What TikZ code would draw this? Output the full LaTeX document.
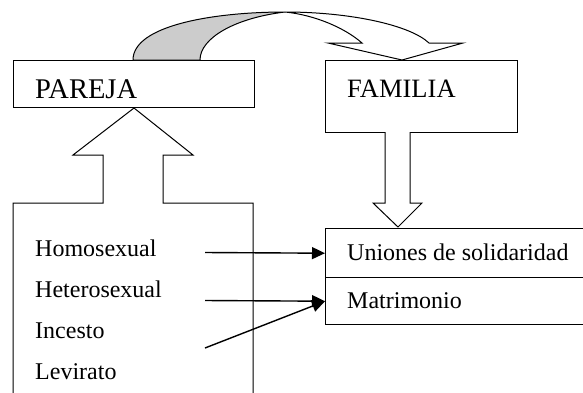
\documentclass[tikz,border=0pt]{standalone}
\usepackage{fontspec}
\setmainfont{Liberation Serif}
\usetikzlibrary{arrows.meta}

\begin{document}
\begin{tikzpicture}[x=1pt, y=-1pt,
    box/.style={draw, line width=1pt, rectangle, inner sep=0pt, anchor=north west},
    txt/.style={inner sep=0pt, anchor=base west, font=\fontsize{24}{28}\selectfont},
    link/.style={line width=1.4pt, -{Triangle[length=13pt, width=12pt]}},
    blockarrow/.style={draw, line width=1pt, fill=white, line join=miter}]

  \useasboundingbox (0,0) rectangle (583,392);
  \clip (0,0) rectangle (583,392);

  % Boxes
  \node[box, minimum width=241pt, minimum height=47pt] (pareja) at (13,60) {};
  \node[box, minimum width=192pt, minimum height=72pt] (familia) at (325,60) {};
  \node[box, line width=1.4pt, minimum width=270pt, minimum height=49pt] (uniones) at (325,228) {};
  \node[box, line width=1.4pt, minimum width=270pt, minimum height=47pt] (matri) at (325,277) {};

  % Block arrows
  \draw[blockarrow] (13,400) -- (13,203) -- (103,203) -- (103,155) -- (73,155)
    -- (pareja.south) -- (193,155) -- (163,155) -- (163,203) -- (253,203) -- (253,400);
  \draw[blockarrow] (385,132) -- (385,203) -- (373,203) -- (398,227)
    -- (422,203) -- (410,203) -- (410,132);

  % Curved arrow
  \coordinate (twist) at (285,12);
  \filldraw[fill=gray!40, line width=1pt] (133,60) .. controls (133,25) and (215,12) .. (twist)
    .. controls (235,18) and (200,38) .. (200,60) -- cycle;
  \filldraw[fill=white, line width=1pt, line join=miter] (twist) .. controls (350,12) and (410,25) .. (429,43)
    -- (463,43) -- (402,60) -- (328,43) -- (362,43) .. controls (345,28) and (315,15) .. (twist) -- cycle;

  % Labels
  \node[txt, font=\fontsize{28.5}{32}\selectfont] (lpareja) at (35,98) {PAREJA};
  \node[txt, font=\fontsize{26.5}{30}\selectfont] (lfamilia) at (347,97) {FAMILIA};
  \node[txt] (homo) at (35,256) {Homosexual};
  \node[txt] (hetero) at (35,297) {Heterosexual};
  \node[txt] (incesto) at (35,338) {Incesto};
  \node[txt] (levirato) at (35,379) {Levirato};
  \node[txt] (luniones) at (347,260) {Uniones de solidaridad};
  \node[txt] (lmatri) at (347,308) {Matrimonio};

  % Connections
  \coordinate (s1) at (205,252.5);
  \coordinate (s2) at (205,300.5);
  \coordinate (s3) at (205,348);
  \draw[link] (s1) -- (uniones.west);
  \draw[link] (s2) -- (matri.west);
  \draw[link] (s3) -- (matri.west);
\end{tikzpicture}
\end{document}
